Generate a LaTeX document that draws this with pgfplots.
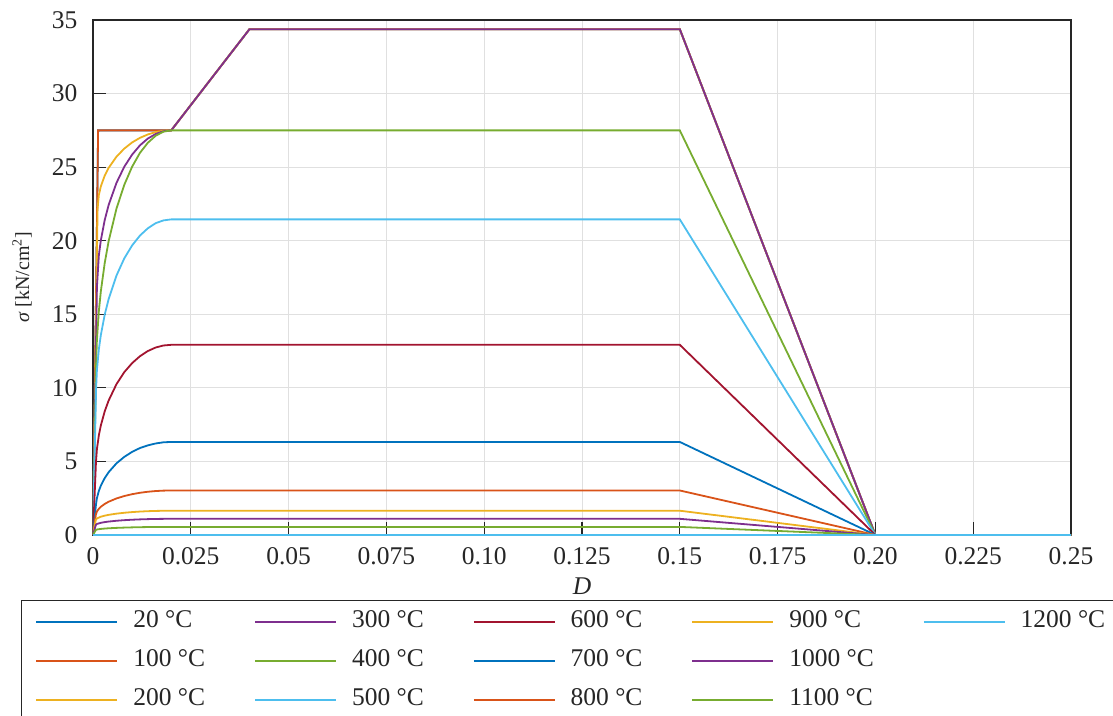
\documentclass[border=0pt]{standalone}
\usepackage{fontspec}
\setmainfont{Liberation Serif}
\usepackage{pgfplots}
\pgfplotsset{compat=1.18}
\definecolor{c1}{rgb}{0,0.447,0.741}
\definecolor{c2}{rgb}{0.850,0.325,0.098}
\definecolor{c3}{rgb}{0.929,0.694,0.125}
\definecolor{c4}{rgb}{0.494,0.184,0.556}
\definecolor{c5}{rgb}{0.466,0.674,0.188}
\definecolor{c6}{rgb}{0.301,0.745,0.933}
\definecolor{c7}{rgb}{0.635,0.078,0.184}
\begin{document}
\begin{tikzpicture}
\begin{axis}[
  scale only axis,
  width=978pt, height=515pt,
  xmin=0, xmax=0.25, ymin=0, ymax=35,
  xtick={0,0.025,0.05,0.075,0.1,0.125,0.15,0.175,0.2,0.225,0.25},
  xticklabels={0,0.025,0.05,0.075,0.10,0.125,0.15,0.175,0.20,0.225,0.25},
  ytick={0,5,10,15,20,25,30,35},
  /pgf/number format/assume math mode=true,
  tick label style={font=\fontsize{25.5}{28}\selectfont, text=black!85},
  xticklabel style={yshift=-9pt},
  yticklabel style={xshift=-12pt},
  tick pos=left, tick align=inside,
  major tick length=13pt,
  every tick/.style={black!85, line width=1.2pt},
  axis line style={black!85, line width=1.2pt},
  grid=major,
  major grid style={black!12, line width=0.9pt},
  xlabel={\textit{D}},
  ylabel={\textit{σ} [kN/cm\textsuperscript{2}]},
  xlabel style={font=\fontsize{25.5}{28}\selectfont, text=black!85, at={(axis description cs:0.5,-0.099)}, anchor=center},
  ylabel style={font=\fontsize{20}{22}\selectfont, text=black!85, at={(axis description cs:-0.0726,0.5)}, anchor=center},
  every axis plot/.append style={line width=1.8pt},
  legend image code/.code={\draw[#1, line width=1.8pt] (0pt,0pt) -- (81pt,0pt);},
  legend columns=5,
  legend cell align=left,
  legend style={
    at={(axis description cs:0,0)}, anchor=north west, xshift=-72pt, yshift=-65pt,
    draw=black!85, line width=1.2pt,
    font=\fontsize{25.5}{28}\selectfont,
    text=black!85,
    inner xsep=14pt, inner ysep=9pt,
    row sep=15pt,
    nodes={inner sep=0pt, text height=18pt, text depth=6pt},
    /tikz/every odd column/.append style={column sep=15pt},
    /tikz/every even column/.append style={column sep=49pt},
  },
]
% legend entries (column-wise order as in the reference)
\addlegendimage{c1}\addlegendentry{20 °C}
\addlegendimage{c4}\addlegendentry{300 °C}
\addlegendimage{c7}\addlegendentry{600 °C}
\addlegendimage{c3}\addlegendentry{900 °C}
\addlegendimage{c6}\addlegendentry{1200 °C}
\addlegendimage{c2}\addlegendentry{100 °C}
\addlegendimage{c5}\addlegendentry{400 °C}
\addlegendimage{c1}\addlegendentry{700 °C}
\addlegendimage{c4}\addlegendentry{1000 °C}
\addlegendimage{empty legend}\addlegendentry{}
\addlegendimage{c3}\addlegendentry{200 °C}
\addlegendimage{c6}\addlegendentry{500 °C}
\addlegendimage{c2}\addlegendentry{800 °C}
\addlegendimage{c5}\addlegendentry{1100 °C}
% data
\addplot[c1, forget plot] coordinates {(0,0)(0.0013095,27.5)(0.02,27.5)(0.04,34.375)(0.15,34.375)(0.2,0)(0.25,0)};
\addplot[c2, forget plot] coordinates {(0,0)(0.0013095,27.5)(0.02,27.5)(0.04,34.375)(0.15,34.375)(0.2,0)(0.25,0)};
\addplot[c3, forget plot] coordinates {(0,0)(0.0011742,22.19)(0.0015,23.11)(0.002,23.69)(0.003,24.43)(0.004,24.95)(0.006,25.71)(0.008,26.26)(0.01,26.68)(0.012,26.99)(0.014,27.22)(0.016,27.38)(0.018,27.47)(0.02,27.5)(0.04,34.375)(0.15,34.375)(0.2,0)(0.25,0)};
\addplot[c4, forget plot] coordinates {(0,0)(0.0010034,16.86)(0.0015,19.01)(0.002,20.02)(0.003,21.41)(0.004,22.43)(0.006,23.93)(0.008,25.03)(0.01,25.85)(0.012,26.48)(0.014,26.94)(0.016,27.25)(0.018,27.44)(0.02,27.5)(0.04,34.375)(0.15,34.375)(0.2,0)(0.25,0)};
\addplot[c5, forget plot] coordinates {(0,0)(0.00078571,11.55)(0.001,13.25)(0.0015,15.22)(0.002,16.55)(0.003,18.49)(0.004,19.97)(0.006,22.18)(0.008,23.80)(0.01,25.03)(0.012,25.97)(0.014,26.65)(0.016,27.13)(0.018,27.41)(0.02,27.5)(0.15,27.5)(0.2,0)(0.25,0)};
\addplot[c6, forget plot] coordinates {(0,0)(0.00078571,9.9)(0.001,11.20)(0.0015,12.63)(0.002,13.58)(0.003,14.98)(0.004,16.04)(0.006,17.63)(0.008,18.80)(0.01,19.68)(0.012,20.35)(0.014,20.84)(0.016,21.19)(0.018,21.38)(0.02,21.45)(0.15,21.45)(0.2,0)(0.25,0)};
\addplot[c7, forget plot] coordinates {(0,0)(0.00076037,4.95)(0.001,5.83)(0.0015,6.78)(0.002,7.44)(0.003,8.41)(0.004,9.14)(0.006,10.25)(0.008,11.07)(0.01,11.68)(0.012,12.15)(0.014,12.50)(0.016,12.74)(0.018,12.88)(0.02,12.925)(0.15,12.925)(0.2,0)(0.25,0)};
\addplot[c1, forget plot] coordinates {(0,0)(0.00075549,2.0625)(0.001,2.50)(0.0015,3.00)(0.002,3.35)(0.003,3.87)(0.004,4.27)(0.006,4.87)(0.008,5.31)(0.01,5.65)(0.012,5.91)(0.014,6.09)(0.016,6.22)(0.018,6.30)(0.02,6.325)(0.15,6.325)(0.2,0)(0.25,0)};
\addplot[c2, forget plot] coordinates {(0,0)(0.00072751,1.375)(0.001,1.594)(0.0015,1.785)(0.002,1.917)(0.003,2.112)(0.004,2.261)(0.006,2.485)(0.008,2.649)(0.01,2.774)(0.012,2.869)(0.014,2.939)(0.016,2.987)(0.018,3.016)(0.02,3.025)(0.15,3.025)(0.2,0)(0.25,0)};
\addplot[c3, forget plot] coordinates {(0,0)(0.00072751,1.03125)(0.001,1.124)(0.002,1.243)(0.003,1.315)(0.004,1.370)(0.006,1.452)(0.008,1.512)(0.01,1.558)(0.012,1.593)(0.014,1.619)(0.016,1.636)(0.018,1.647)(0.02,1.65)(0.15,1.65)(0.2,0)(0.25,0)};
\addplot[c4, forget plot] coordinates {(0,0)(0.00072751,0.6875)(0.001,0.749)(0.002,0.829)(0.003,0.877)(0.004,0.913)(0.006,0.968)(0.008,1.008)(0.01,1.039)(0.012,1.062)(0.014,1.079)(0.016,1.091)(0.018,1.098)(0.02,1.1)(0.15,1.1)(0.2,0)(0.25,0)};
\addplot[c5, forget plot] coordinates {(0,0)(0.00072751,0.34375)(0.001,0.375)(0.002,0.414)(0.003,0.438)(0.004,0.457)(0.006,0.484)(0.008,0.504)(0.01,0.519)(0.012,0.531)(0.014,0.540)(0.016,0.545)(0.018,0.549)(0.02,0.55)(0.15,0.55)(0.2,0)(0.25,0)};
\addplot[c6, forget plot] coordinates {(0,0)(0.25,0)};
\end{axis}
\pgfresetboundingbox
\useasboundingbox ([xshift=-93pt,yshift=-180pt]current axis.south west) rectangle ([xshift=42pt,yshift=20pt]current axis.north east);
\end{tikzpicture}
\end{document}
